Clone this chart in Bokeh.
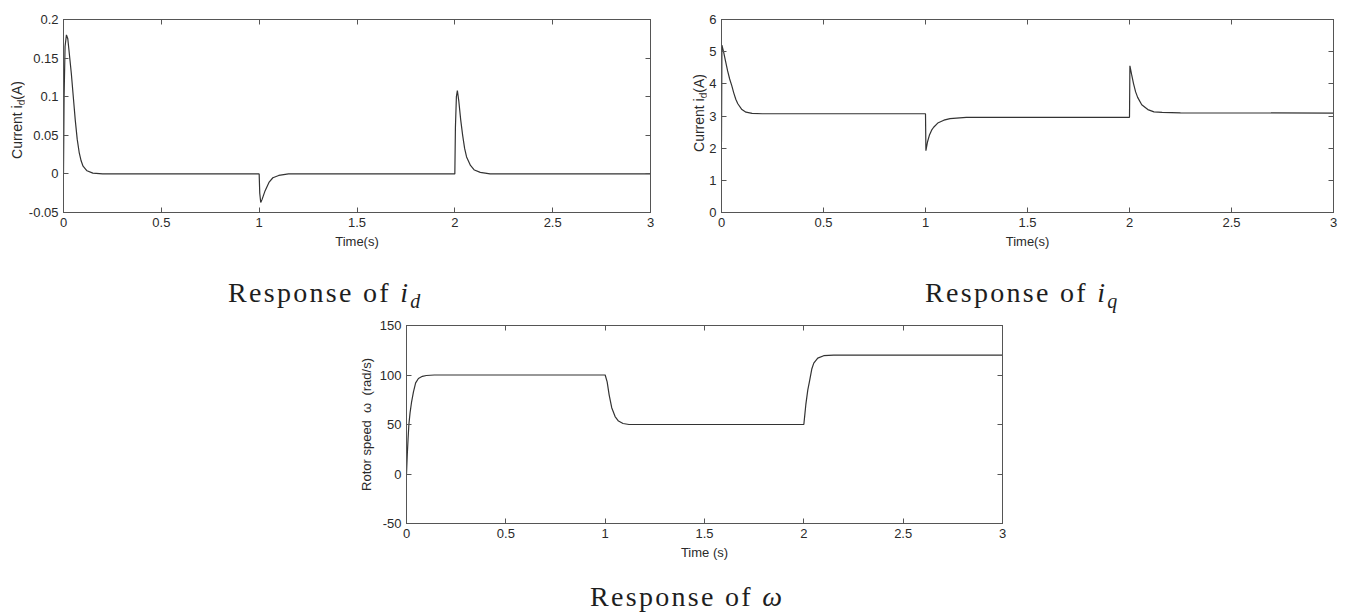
from bokeh.plotting import figure
from bokeh.models import Range1d, FixedTicker, LinearAxis, CustomJSTickFormatter, Div, Spacer
from bokeh.layouts import column, row
from bokeh.embed import file_html
from bokeh.resources import INLINE

# ---------------- data ----------------
x_ticks = [0, 0.5, 1, 1.5, 2, 2.5, 3]
id_ticks = [-0.05, 0, 0.05, 0.1, 0.15, 0.2]
iq_ticks = [0, 1, 2, 3, 4, 5, 6]
w_ticks = [-50, 0, 50, 100, 150]

time_id = [0.0, 0.003, 0.008, 0.015, 0.022, 0.03, 0.04, 0.05, 0.06, 0.07,
           0.08, 0.09, 0.1, 0.12, 0.15, 0.2,
           1.0, 1.003, 1.008, 1.015, 1.03, 1.05, 1.07, 1.1, 1.15,
           2.0, 2.003, 2.008, 2.013, 2.02, 2.03, 2.04, 2.05, 2.06, 2.08, 2.1, 2.13, 2.18, 3.0]
current_id = [0.0, 0.1, 0.165, 0.18, 0.175, 0.155, 0.13, 0.1, 0.07, 0.045,
              0.028, 0.017, 0.01, 0.004, 0.001, 0.0,
              0.0, -0.025, -0.037, -0.033, -0.022, -0.011, -0.005, -0.002, 0.0,
              0.0, 0.06, 0.1, 0.108, 0.095, 0.07, 0.05, 0.033, 0.022, 0.011, 0.005, 0.002, 0.0, 0.0]

time_iq = [0.0, 0.002, 0.01, 0.02, 0.03, 0.04, 0.05, 0.06, 0.07, 0.08,
           0.1, 0.12, 0.15, 0.2, 0.3,
           1.0, 1.002, 1.01, 1.02, 1.03, 1.04, 1.06, 1.09, 1.12, 1.2,
           2.0, 2.002, 2.01, 2.02, 2.03, 2.04, 2.06, 2.09, 2.12, 2.16, 2.25, 3.0]
current_iq = [2.2, 5.2, 5.0, 4.7, 4.4, 4.15, 3.95, 3.72, 3.52, 3.38,
              3.2, 3.12, 3.08, 3.07, 3.07,
              3.07, 1.92, 2.2, 2.42, 2.56, 2.65, 2.78, 2.87, 2.92, 2.96,
              2.96, 4.56, 4.3, 4.0, 3.75, 3.58, 3.35, 3.2, 3.13, 3.11, 3.1, 3.09]

time_w = [0.0, 0.004, 0.008, 0.012, 0.018, 0.025, 0.035, 0.046, 0.06, 0.08, 0.1, 0.14,
          1.0, 1.01, 1.02, 1.033, 1.05, 1.067, 1.09, 1.12, 1.2,
          2.0, 2.005, 2.01, 2.02, 2.028, 2.04, 2.05, 2.07, 2.1, 2.15, 3.0]
speed_w = [0, 20, 36, 50, 62, 72, 83, 92, 96.5, 98.7, 99.5, 100,
           100, 93, 80, 67, 58, 53.5, 51, 50, 50,
           50, 60, 70, 85, 93, 106, 112, 117, 119.5, 120, 120]

# ---------------- styling ----------------
FONT = "Liberation Sans"
FRAME = "#555555"
LINE = "#333333"
TXT = "#2a2a2a"


def style_axis(ax, blank=False):
    ax.major_tick_in = 5
    ax.major_tick_out = 0
    ax.minor_tick_line_color = None
    ax.axis_line_color = FRAME
    ax.major_tick_line_color = FRAME
    ax.major_label_text_font = FONT
    ax.major_label_text_color = TXT
    ax.axis_label_text_font = FONT
    ax.axis_label_text_font_style = "normal"
    ax.axis_label_text_font_size = "13px"
    ax.axis_label_text_color = TXT
    ax.axis_label_standoff = 4
    if blank:
        ax.formatter = CustomJSTickFormatter(code="return '';")
        ax.major_label_text_font_size = "0px"
        ax.major_label_standoff = 0
    else:
        ax.formatter = CustomJSTickFormatter(code="return tick.toString();")
        ax.major_label_text_font_size = "13px"
        ax.major_label_standoff = 5


def make_fig(width, height, left, right, top, bottom, ylim, yticks, xlabel, ylabel=None):
    p = figure(width=width, height=height, x_range=Range1d(0, 3), y_range=Range1d(*ylim),
               output_backend="svg", toolbar_location=None,
               min_border_left=left, min_border_right=right,
               min_border_top=top, min_border_bottom=bottom,
               x_axis_label=xlabel, y_axis_label=ylabel, margin=0)
    p.grid.visible = False
    p.outline_line_color = FRAME
    p.outline_line_width = 1
    p.background_fill_color = "white"
    p.border_fill_color = "white"
    p.xaxis.ticker = FixedTicker(ticks=x_ticks)
    p.yaxis.ticker = FixedTicker(ticks=yticks)
    for ax in p.xaxis + p.yaxis:
        style_axis(ax)
    top_ax = LinearAxis(ticker=FixedTicker(ticks=x_ticks))
    style_axis(top_ax, blank=True)
    p.add_layout(top_ax, "above")
    right_ax = LinearAxis(ticker=FixedTicker(ticks=yticks))
    style_axis(right_ax, blank=True)
    p.add_layout(right_ax, "right")
    return p


def ylabel_div(width, height, cx, cy, size=14):
    # rotated "Current i_d(A)" (subscript d), centred on (cx, cy)
    html = (f'<div style="position:relative;width:{width}px;height:{height}px;">'
            f'<div style="position:absolute;left:{cx}px;top:{cy}px;'
            f'transform:translate(-50%,-50%) rotate(-90deg);white-space:nowrap;'
            f"font-family:'Liberation Sans';font-size:{size}px;line-height:{size}px;color:{TXT}\">"
            f'Current i<sub style="font-size:10px;line-height:0;vertical-align:-3px">d</sub>(A)'
            f'</div></div>')
    return Div(text=html, width=width, height=height, margin=0)


# top-left: i_d
p1 = make_fig(656, 254, 39, 30, 19, 42, (-0.05, 0.2), id_ticks, "Time(s)")
p1.line(time_id, current_id, line_color=LINE, line_width=1.2)
lab1 = ylabel_div(24, 254, 16.6, 120)

# top-right: i_q
p2 = make_fig(642, 254, 15, 15, 9, 42, (0, 6), iq_ticks, "Time(s)")
p2.line(time_iq, current_iq, line_color=LINE, line_width=1.2)
lab2 = ylabel_div(26, 254, 18.6, 113)

# bottom: omega
p3 = make_fig(666, 251, 60, 10, 13, 40, (-50, 150), w_ticks, "Time (s)",
              "Rotor speed\u00a0 \u03c9 \u00a0(rad/s)")
p3.yaxis[0].axis_label_standoff = 3
p3.line(time_w, speed_w, line_color=LINE, line_width=1.2)

CAP = ("font-family:'Liberation Serif';font-size:28px;line-height:22px;"
       "letter-spacing:2.3px;color:#1e1e1e;white-space:nowrap;padding-top:{pt}px")
SUB = "font-size:20px;line-height:0;vertical-align:-6px;letter-spacing:0"

cap1 = Div(text=f'<div style="{CAP.format(pt=28)}">Response of <i>i</i>'
                f'<sub style="{SUB}"><i>d</i></sub></div>', width=697, height=58, margin=0)
cap2 = Div(text=f'<div style="{CAP.format(pt=28)}">Response of <i>i</i>'
                f'<sub style="{SUB}"><i>q</i></sub></div>', width=423, height=58, margin=0)
cap3 = Div(text=f'<div style="{CAP.format(pt=23)}">Response of <i>\u03c9</i></div>',
           width=700, height=50, margin=0)

layout = column(
    row(lab1, p1, lab2, p2, margin=0),
    row(Spacer(width=228, height=58, margin=0), cap1, cap2, margin=0),
    row(Spacer(width=346, height=251, margin=0), p3, margin=0),
    row(Spacer(width=590, height=50, margin=0), cap3, margin=0),
    margin=0,
)

open("out.html", "w").write(file_html(layout, INLINE))
